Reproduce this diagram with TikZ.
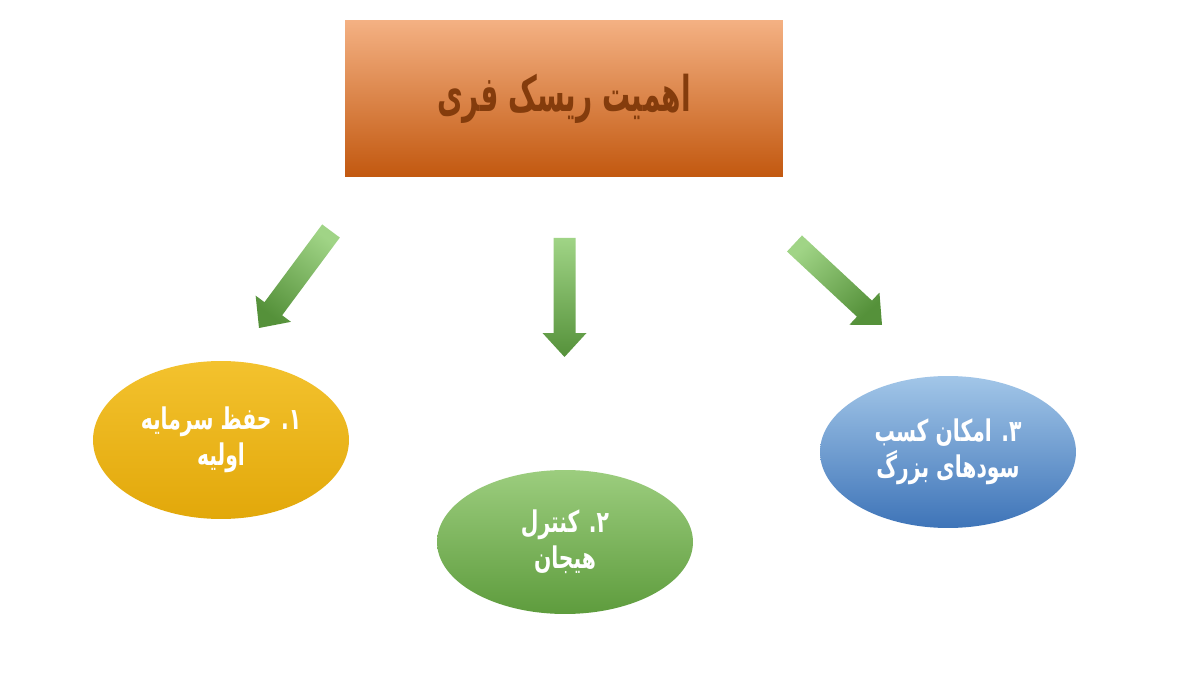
\documentclass[tikz,border=0pt]{standalone}
\usepackage{fontspec}
\usepackage{graphicx}
\newfontfamily\arabicfont[Script=Arabic]{DejaVu Sans}
\TeXXeTstate=1
\usetikzlibrary{calc,shapes.geometric}
\definecolor{orTop}{HTML}{F4B183}
\definecolor{orMid}{HTML}{EC8443}
\definecolor{orBot}{HTML}{C2580F}
\definecolor{titleText}{HTML}{843C0C}
\definecolor{yTop}{HTML}{F3C22E}
\definecolor{yMid}{HTML}{FBC10E}
\definecolor{yBot}{HTML}{E2A80A}
\definecolor{gTop}{HTML}{9CCD7E}
\definecolor{gMid}{HTML}{7CB85A}
\definecolor{gBot}{HTML}{5E9C3D}
\definecolor{bTop}{HTML}{A2C6E8}
\definecolor{bMid}{HTML}{6E9FD5}
\definecolor{bBot}{HTML}{3E74B8}
\definecolor{arLight}{HTML}{A0D486}
\definecolor{arDark}{HTML}{55913A}
\newcommand{\garrow}[3]{%
  \coordinate (#1b) at ($(#2)!0.48cm!(#1)$);
  \shade[top color=arLight,bottom color=arDark,shading angle=#3]
    ($(#1)!0.22cm!90:(#2)$) -- ($(#1b)!0.22cm!90:(#2)$) -- ($(#1b)!0.44cm!90:(#2)$)
    -- (#2) -- ($(#1b)!0.44cm!-90:(#2)$) -- ($(#1b)!0.22cm!-90:(#2)$)
    -- ($(#1)!0.22cm!-90:(#2)$) -- cycle;}
\tikzset{
  titlebox/.style={rectangle, inner sep=0pt, minimum width=8.76cm, minimum height=3.14cm,
    top color=orTop, middle color=orMid, bottom color=orBot,
    font=\arabicfont\bfseries\fontsize{28}{32}\selectfont, text=titleText},
  oval/.style={ellipse, inner sep=0pt, minimum width=5.12cm, align=center, text=white,
    font=\arabicfont\bfseries\fontsize{17}{20.5}\selectfont}
}
\begin{document}
\begin{tikzpicture}[x=0.02cm,y=-0.02cm]
\fill[white] (0,0) rectangle (1200,675);
\useasboundingbox (0,0) rectangle (1200,675);
\node[titlebox] (title) at (564,98.5) {\scalebox{0.57}[1]{\beginR اهمیت ریسک فری\endR}};
\node[oval, minimum height=3.16cm, top color=yTop, middle color=yMid, bottom color=yBot]
  (o1) at (221,440) {\scalebox{0.68}[1]{\beginR ۱. حفظ سرمایه\endR}\\\scalebox{0.68}[1]{\beginR اولیه\endR}};
\node[oval, minimum height=2.88cm, top color=gTop, middle color=gMid, bottom color=gBot]
  (o2) at (565,542) {\scalebox{0.68}[1]{\beginR ۲. کنترل\endR}\\\scalebox{0.68}[1]{\beginR هیجان\endR}};
\node[oval, minimum height=3.04cm, top color=bTop, middle color=bMid, bottom color=bBot]
  (o3) at (948,452) {\scalebox{0.68}[1]{\beginR ۳. امکان کسب\endR}\\\scalebox{0.68}[1]{\beginR سودهای بزرگ\endR}};
\coordinate (a1) at (331,231); \coordinate (h1) at (259,328);
\coordinate (a2) at (564.5,238); \coordinate (h2) at (564.5,357);
\coordinate (a3) at (794.5,243.5); \coordinate (h3) at (882,325);
\garrow{a1}{h1}{-37}
\garrow{a2}{h2}{0}
\garrow{a3}{h3}{43}
\end{tikzpicture}
\end{document}
